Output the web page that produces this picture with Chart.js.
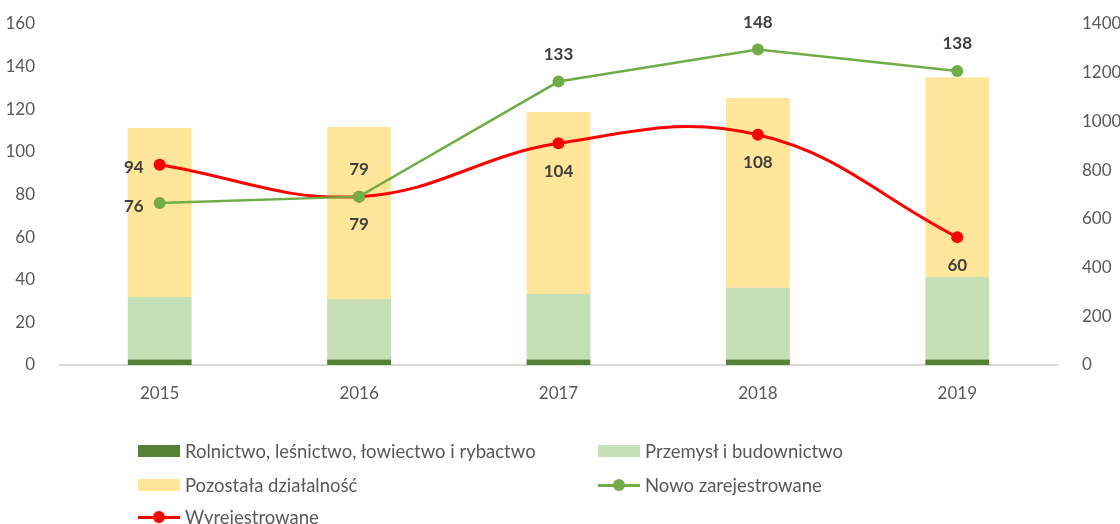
<!DOCTYPE html>
<html lang="pl">
<head>
<meta charset="utf-8">
<title>Podmioty gospodarki narodowej 2015-2019</title>
<script src="https://cdn.jsdelivr.net/npm/chart.js@4/dist/chart.umd.min.js"></script>
<style>
    html, body { margin: 0; padding: 0; background: #fff; }
    #wrap { position: relative; width: 1120px; height: 524px; overflow: hidden; }
    #chart { position: absolute; left: 0; top: 0; }
    #legend {
        position: absolute; left: 0; top: 0; width: 1120px; height: 524px;
        font-family: Lato, sans-serif; font-size: 18.5px; color: #595959;
    }
    .item { position: absolute; display: flex; align-items: center; height: 22px; white-space: nowrap; }
    .box { width: 42px; height: 12px; margin-right: 5px; }
    .mark { position: relative; width: 42px; height: 14px; margin-right: 5px; }
    .mark .ln { position: absolute; left: 0; right: 0; top: 6px; height: 2.5px; }
    .mark .dot { position: absolute; left: 15px; top: 1px; width: 12px; height: 12px; border-radius: 50%; }
</style>
</head>
<body>
<div id="wrap">
    <canvas id="chart" width="1120" height="524"></canvas>
    <div id="legend"></div>
</div>
<script>
// Dane
const lata = ['2015', '2016', '2017', '2018', '2019'];

// slupki - prawa os
const rolnictwo = [23, 23, 23, 23, 23];
const przemysl = [256, 248, 269, 294, 338];
const pozostala = [694, 706, 747, 779, 820];

// linie - lewa os
const nowoZarejestrowane = [76, 79, 133, 148, 138];
const wyrejestrowane = [94, 79, 104, 108, 60];

const leweTicki = [0, 20, 40, 60, 80, 100, 120, 140, 160];
const praweTicki = [0, 200, 400, 600, 800, 1000, 1200, 1400];

// gdzie rysowac etykiety przy punktach
const pozNowe = ['left', 'above', 'above', 'above', 'above'];
const pozWyrej = ['left', 'below', 'below', 'below', 'below'];

const FONT = 'Lato, sans-serif';
// niska wysokosc linii, zeby padding osi Y nie przesuwal gory wykresu
const tickFont = { family: FONT, size: 17, lineHeight: 0.7 };

/**
 * Etykiety wartosci przy punktach linii
 */
const etykietyPlugin = {
    id: 'etykiety',
    afterDatasetsDraw(chart) {
        const ctx = chart.ctx;
        ctx.save();
        ctx.font = `bold 17px ${FONT}`;
        ctx.fillStyle = '#404040';
        ctx.textBaseline = 'middle';
        chart.data.datasets.forEach((ds, i) => {
            if (!ds.etykiety) return;
            const meta = chart.getDatasetMeta(i);
            meta.data.forEach((pt, j) => {
                const pos = ds.etykiety[j];
                let x = pt.x, y = pt.y;
                if (pos === 'left') {
                    ctx.textAlign = 'right';
                    x -= 16;
                    y += 3;
                } else {
                    ctx.textAlign = 'center';
                    y += pos === 'above' ? -27 : 28;
                }
                ctx.fillText(String(ds.data[j]), x, y);
            });
        });
        ctx.restore();
    }
};

const chart = new Chart(document.getElementById('chart').getContext('2d'), {
    type: 'bar',
    data: {
        labels: lata,
        datasets: [
            {
                type: 'line',
                label: 'Nowo zarejestrowane',
                data: nowoZarejestrowane,
                yAxisID: 'yL',
                borderColor: '#70AD47',
                backgroundColor: '#70AD47',
                borderWidth: 2.5,
                pointRadius: 6,
                pointBorderWidth: 0,
                tension: 0,
                order: 0,
                etykiety: pozNowe
            },
            {
                type: 'line',
                label: 'Wyrejestrowane',
                data: wyrejestrowane,
                yAxisID: 'yL',
                borderColor: '#FF0000',
                backgroundColor: '#FF0000',
                borderWidth: 3,
                pointRadius: 6,
                pointBorderWidth: 0,
                tension: 0.4,
                order: 0,
                etykiety: pozWyrej
            },
            {
                label: 'Rolnictwo, leśnictwo, łowiectwo i rybactwo',
                data: rolnictwo,
                yAxisID: 'yR',
                backgroundColor: '#548235',
                order: 1
            },
            {
                label: 'Przemysł i budownictwo',
                data: przemysl,
                yAxisID: 'yR',
                backgroundColor: '#C5E0B4',
                order: 1
            },
            {
                label: 'Pozostała działalność',
                data: pozostala,
                yAxisID: 'yR',
                backgroundColor: '#FFE699',
                order: 1
            }
        ]
    },
    options: {
        responsive: false,
        animation: false,
        events: [],
        layout: { padding: { top: 24, left: 0, right: 0, bottom: 0 } },
        datasets: { bar: { barPercentage: 0.32, categoryPercentage: 1 } },
        plugins: { legend: { display: false }, tooltip: { enabled: false } },
        scales: {
            x: {
                stacked: true,
                offset: true,
                grid: { drawOnChartArea: false, drawTicks: false },
                border: { display: true, color: '#D9D9D9', width: 2 },
                ticks: { color: '#595959', font: { family: FONT, size: 17 }, padding: 18 },
                afterFit: s => { s.height = 159; }
            },
            yL: {
                position: 'left',
                min: 0, max: 160,
                grid: { display: false },
                border: { display: false },
                afterBuildTicks: s => { s.ticks = leweTicki.map(v => ({ value: v })); },
                ticks: { color: '#595959', font: tickFont, padding: 17, callback: v => String(v) },
                afterFit: s => { s.width = 60; }
            },
            yR: {
                position: 'right',
                stacked: true,
                min: 0, max: 1400,
                grid: { display: false },
                border: { display: false },
                afterBuildTicks: s => { s.ticks = praweTicki.map(v => ({ value: v })); },
                ticks: { color: '#595959', font: tickFont, padding: 17, callback: v => String(v) },
                afterFit: s => { s.width = 63; }
            }
        }
    },
    plugins: [etykietyPlugin]
});

/**
 * Legenda w HTML - dwie kolumny jak w oryginale
 */
function buildLegend() {
    const legend = document.getElementById('legend');
    const kolejnosc = [2, 3, 4, 0, 1];
    const kolumny = [138, 598];
    const wiersze = [451, 485, 517];
    kolejnosc.forEach((idx, k) => {
        const ds = chart.data.datasets[idx];
        const item = document.createElement('div');
        item.className = 'item';
        item.style.left = kolumny[k % 2] + 'px';
        item.style.top = (wiersze[Math.floor(k / 2)] - 11) + 'px';
        let marker;
        if (ds.type === 'line') {
            marker = document.createElement('div');
            marker.className = 'mark';
            marker.innerHTML = `<div class="ln" style="background:${ds.borderColor}"></div>` +
                `<div class="dot" style="background:${ds.borderColor}"></div>`;
        } else {
            marker = document.createElement('div');
            marker.className = 'box';
            marker.style.background = ds.backgroundColor;
        }
        const txt = document.createElement('span');
        txt.textContent = ds.label;
        item.appendChild(marker);
        item.appendChild(txt);
        legend.appendChild(item);
    });
}

buildLegend();
</script>
</body>
</html>
